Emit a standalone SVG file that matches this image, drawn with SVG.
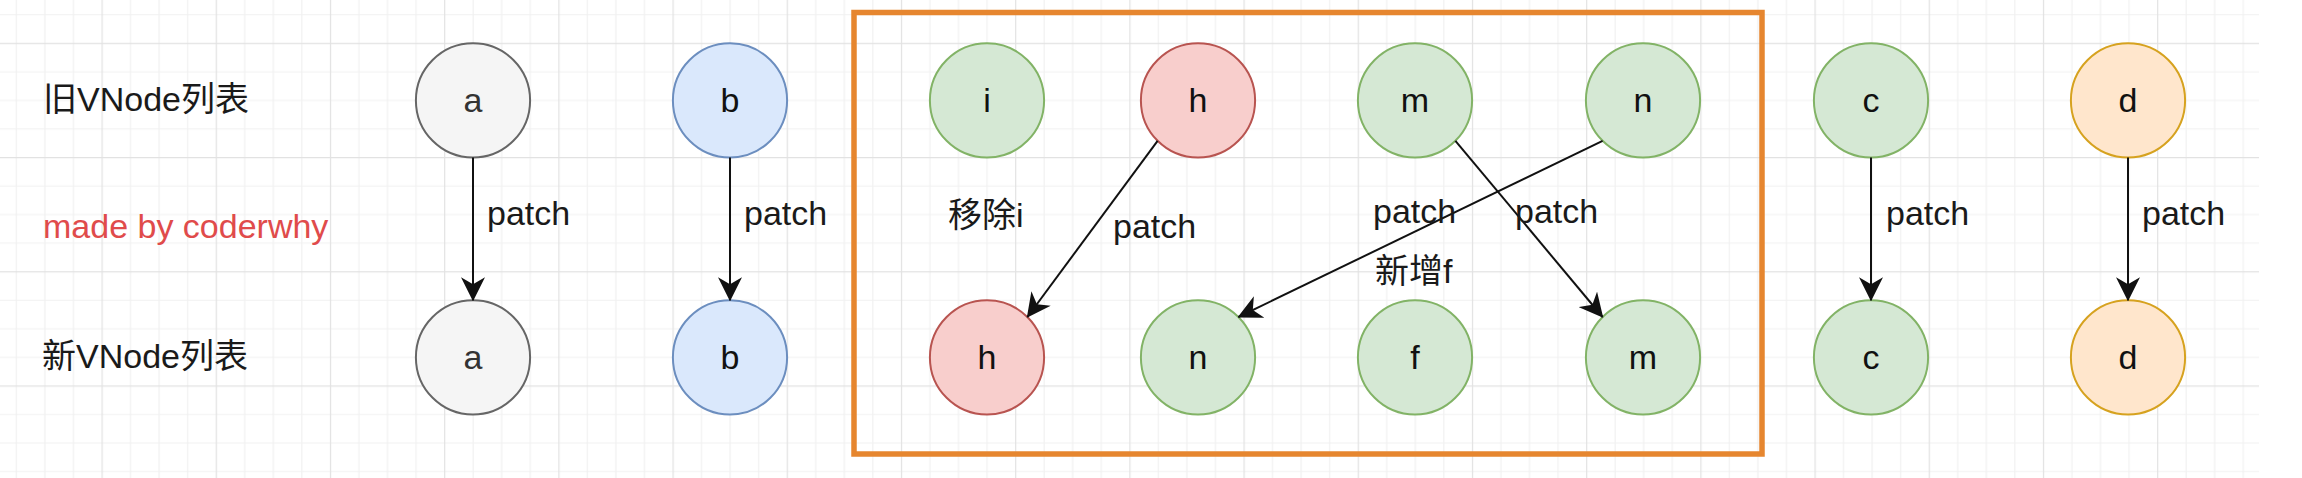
<svg xmlns="http://www.w3.org/2000/svg" width="2302" height="478" viewBox="0 0 2302 478">
  <style>
    .lbl { font-family: "Liberation Sans", "Noto Sans CJK SC", sans-serif; font-size: 34px; fill: #1a1a1a; }
    .red { fill: #e04b4b; }
    .nt { font-family: "Liberation Sans", "Noto Sans CJK SC", sans-serif; font-size: 34px; fill: #111111; text-anchor: middle; }
    .node circle { stroke-width: 2; }
    .gray circle { fill: #f5f5f5; stroke: #666666; }
    .gray text { fill: #333333; }
    .blue circle { fill: #dae8fc; stroke: #6c8ebf; }
    .green circle { fill: #d5e8d4; stroke: #82b366; }
    .redn circle { fill: #f8cecc; stroke: #b85450; }
    .orange circle { fill: #ffe6cc; stroke: #d6a21f; }
    .edge { stroke: #111111; stroke-width: 2; fill: none; marker-end: url(#arrow); }
  </style>
  <defs>
    <pattern id="grid" patternUnits="userSpaceOnUse" x="101.5" y="42.8" width="114.2" height="114.2">
      <path d="M29.05 0V114.2M57.6 0V114.2M86.15 0V114.2M0 29.05H114.2M0 57.6H114.2M0 86.15H114.2" stroke="#f1f1f1" stroke-width="1.2"/>
      <path d="M0.5 0V114.2M0 0.5H114.2" stroke="#e2e2e2" stroke-width="1.4"/>
    </pattern>
    <marker id="arrow" markerUnits="userSpaceOnUse" viewBox="0 0 24 24" markerWidth="24" markerHeight="24" refX="23" refY="12" orient="auto">
      <path d="M0,0 L24,12 L0,24 L7,12 Z" fill="#111111"/>
    </marker>
  </defs>
  <rect x="0" y="0" width="2302" height="478" fill="#ffffff"/>
  <rect x="0" y="0" width="2259" height="478" fill="url(#grid)"/>

  <g id="group-box">
    <rect x="854" y="12.5" width="908" height="441.5" fill="none" stroke="#e6862f" stroke-width="5.5"/>
  </g>

  <g id="row-labels">
    <text class="lbl" x="43" y="111">旧VNode列表</text>
    <text class="lbl red" x="43" y="238">made by coderwhy</text>
    <text class="lbl" x="42" y="368">新VNode列表</text>
  </g>

  <g id="old-a" class="node gray"><circle cx="473" cy="100.4" r="57.1"/><text class="nt" x="473" y="112">a</text></g>
  <g id="old-b" class="node blue"><circle cx="730" cy="100.4" r="57.1"/><text class="nt" x="730" y="112">b</text></g>
  <g id="old-i" class="node green"><circle cx="987" cy="100.4" r="57.1"/><text class="nt" x="987" y="112">i</text></g>
  <g id="old-h" class="node redn"><circle cx="1198" cy="100.4" r="57.1"/><text class="nt" x="1198" y="112">h</text></g>
  <g id="old-m" class="node green"><circle cx="1415" cy="100.4" r="57.1"/><text class="nt" x="1415" y="112">m</text></g>
  <g id="old-n" class="node green"><circle cx="1643" cy="100.4" r="57.1"/><text class="nt" x="1643" y="112">n</text></g>
  <g id="old-c" class="node green"><circle cx="1871" cy="100.4" r="57.1"/><text class="nt" x="1871" y="112">c</text></g>
  <g id="old-d" class="node orange"><circle cx="2128" cy="100.4" r="57.1"/><text class="nt" x="2128" y="112">d</text></g>

  <g id="new-a" class="node gray"><circle cx="473" cy="357.4" r="57.1"/><text class="nt" x="473" y="369">a</text></g>
  <g id="new-b" class="node blue"><circle cx="730" cy="357.4" r="57.1"/><text class="nt" x="730" y="369">b</text></g>
  <g id="new-h" class="node redn"><circle cx="987" cy="357.4" r="57.1"/><text class="nt" x="987" y="369">h</text></g>
  <g id="new-n" class="node green"><circle cx="1198" cy="357.4" r="57.1"/><text class="nt" x="1198" y="369">n</text></g>
  <g id="new-f" class="node green"><circle cx="1415" cy="357.4" r="57.1"/><text class="nt" x="1415" y="369">f</text></g>
  <g id="new-m" class="node green"><circle cx="1643" cy="357.4" r="57.1"/><text class="nt" x="1643" y="369">m</text></g>
  <g id="new-c" class="node green"><circle cx="1871" cy="357.4" r="57.1"/><text class="nt" x="1871" y="369">c</text></g>
  <g id="new-d" class="node orange"><circle cx="2128" cy="357.4" r="57.1"/><text class="nt" x="2128" y="369">d</text></g>

  <g id="connectors">
    <path class="edge" d="M473 157.5V300.3"/>
    <path class="edge" d="M730 157.5V300.3"/>
    <path class="edge" d="M1871 157.5V300.3"/>
    <path class="edge" d="M2128 157.5V300.3"/>
    <path class="edge" d="M1157.6 140.8L1027.4 317"/>
    <path class="edge" d="M1602.6 140.8L1238.4 317"/>
    <path class="edge" d="M1455.4 140.8L1602.6 317"/>
  </g>

  <g id="edge-labels">
    <text class="lbl" x="487" y="225">patch</text>
    <text class="lbl" x="744" y="225">patch</text>
    <text class="lbl" x="1886" y="225">patch</text>
    <text class="lbl" x="2142" y="225">patch</text>
    <text class="lbl" x="1113" y="238">patch</text>
    <text class="lbl" x="1373" y="223">patch</text>
    <text class="lbl" x="1515" y="223">patch</text>
    <text class="lbl" x="948" y="227">移除i</text>
    <text class="lbl" x="1375" y="283">新增f</text>
  </g>
</svg>
